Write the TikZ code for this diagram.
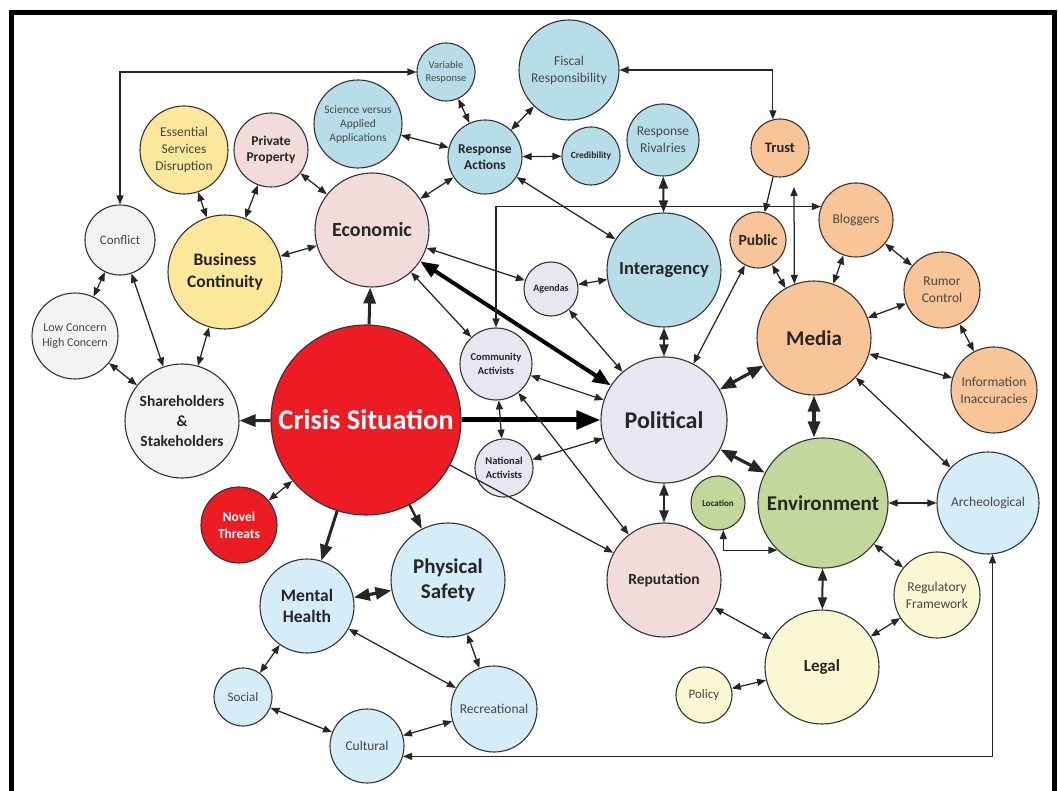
\documentclass[tikz,border=0pt]{standalone}
\usepackage{fontspec}
\setmainfont{Carlito}
\usetikzlibrary{arrows.meta}
\definecolor{cRed}{HTML}{ED1C24}
\definecolor{cPink}{HTML}{F2DCDB}
\definecolor{cLav}{HTML}{E8E6F1}
\definecolor{cGray}{HTML}{F2F3F5}
\definecolor{cYel}{HTML}{FCE79B}
\definecolor{cBlue}{HTML}{B7DEE8}
\definecolor{cOrange}{HTML}{F9C497}
\definecolor{cGreen}{HTML}{C4D79B}
\definecolor{cLBlue}{HTML}{D4EDF8}
\definecolor{cLYel}{HTML}{FAF8D2}
\begin{document}
\begin{tikzpicture}[x=1pt,y=-1pt,
 bub/.style n args={4}{circle, draw=black!80, line width=1.1pt, inner sep=0pt, align=center,
   fill=#1, minimum size=#2pt, font=\fontsize{#3}{#4}\selectfont, text=black!72},
 bubb/.style n args={4}{bub={#1}{#2}{#3}{#4}, font=\fontsize{#3}{#4}\selectfont\bfseries, text=black!85},
 lnk/.style={draw=black!85, line width=1.25pt, {Triangle[length=9pt,width=7pt]}-{Triangle[length=9pt,width=7pt]}},
 lnkone/.style={draw=black!85, line width=1.25pt, -{Triangle[length=9pt,width=7pt]}},
 lnkmed/.style={draw=black!85, line width=2pt, {Triangle[length=12pt,width=9pt]}-{Triangle[length=12pt,width=9pt]}},
 lnkmedone/.style={draw=black!85, line width=2.4pt, -{Triangle[length=14pt,width=10pt]}},
 lnkthk/.style={draw=black!85, line width=3.2pt, {Triangle[length=16pt,width=12pt]}-{Triangle[length=16pt,width=12pt]}},
 lnkthkone/.style={draw=black!85, line width=3pt, -{Triangle[length=16pt,width=12pt]}},
 lnkbig/.style={draw=black, line width=4pt, {Triangle[length=18pt,width=14pt]}-{Triangle[length=18pt,width=14pt]}},
 lnkhuge/.style={draw=black, line width=5pt, -{Triangle[length=24pt,width=18pt]}}
]
\useasboundingbox (0,0) rectangle (1058,791);
\begin{scope}
\clip (0,0) rectangle (1058,791);
\draw[line width=5pt] (11,12.5) rectangle (1054,830);
\end{scope}

% nodes
\node[bubb={cRed}{190}{28.5}{32}, text=white] (crisis) at (366,420) {Crisis Situation};
\node[bubb={cPink}{114}{20}{23}] (econ) at (372,230) {Economic};
\node[bubb={cLav}{126}{24}{27}] (pol) at (664,420) {Political};
\node[bubb={cGray}{114}{15.5}{20}] (share) at (182,421) {Shareholders\\\&\\Stakeholders};
\node[bubb={cYel}{114}{17.5}{22}] (bus) at (225,272) {Business\\Continuity};
\node[bub={cYel}{88}{13.5}{17}] (ess) at (184,150) {Essential\\Services\\Disruption};
\node[bubb={cPink}{74}{13.5}{16}] (priv) at (271,150) {Private\\Property};
\node[bub={cBlue}{88}{11.5}{14}] (sci) at (358,124) {Science versus\\Applied\\Applications};
\node[bub={cBlue}{58}{10.5}{13}] (var) at (446,72) {Variable\\Response};
\node[bubb={cBlue}{74}{13.5}{16}] (ra) at (485,157) {Response\\Actions};
\node[bub={cBlue}{100}{13.5}{17}] (fis) at (569,70) {Fiscal\\Responsibility};
\node[bubb={cBlue}{58}{9.5}{12}] (credb) at (591,156) {Credibility};
\node[bub={cBlue}{72}{13.5}{17}] (riv) at (663,140) {Response\\Rivalries};
\node[bubb={cOrange}{58}{14.5}{17}] (trust) at (780,148) {Trust};
\node[bubb={cBlue}{114}{18.5}{22}] (inter) at (664,270) {Interagency};
\node[bubb={cOrange}{56}{15.5}{18}] (pub) at (758,240) {Public};
\node[bub={cOrange}{74}{13.5}{16}] (blog) at (856,220) {Bloggers};
\node[bub={cOrange}{76}{13.5}{17}] (rumor) at (942,290) {Rumor\\Control};
\node[bubb={cOrange}{114}{21}{24}] (media) at (814,338) {Media};
\node[bub={cOrange}{86}{13.5}{17}] (info) at (994,390) {Information\\Inaccuracies};
\node[bub={cGray}{70}{13}{15}] (confl) at (120,240) {Conflict};
\node[bub={cGray}{86}{12}{15}] (low) at (75,336) {Low Concern\\High Concern};
\node[bubb={cLav}{54}{10}{12}] (agen) at (551,289) {Agendas};
\node[bubb={cLav}{72}{10.5}{14}] (ca) at (496,364) {Community\\Activists};
\node[bubb={cLav}{58}{10.5}{14}] (na) at (504,468) {National\\Activists};
\node[bubb={cRed}{76}{13.5}{17}, text=white] (novel) at (239,525) {Novel\\Threats};
\node[bubb={cLBlue}{94}{17.5}{21}] (mh) at (307,606) {Mental\\Health};
\node[bubb={cLBlue}{114}{21}{25}] (ps) at (448,580) {Physical\\Safety};
\node[bub={cLBlue}{58}{13}{15}] (soc) at (243,697) {Social};
\node[bub={cLBlue}{74}{13.5}{16}] (cult) at (367,746) {Cultural};
\node[bub={cLBlue}{86}{13.5}{16}] (rec) at (494,709) {Recreational};
\node[bubb={cPink}{114}{15.5}{18}] (rep) at (664,580) {Reputation};
\node[bubb={cGreen}{54}{9}{11}] (loc) at (718,503) {Location};
\node[bubb={cGreen}{130}{21}{24}] (env) at (823,503) {Environment};
\node[bub={cLBlue}{102}{13.5}{16}] (arch) at (988,503) {Archeological};
\node[bub={cLYel}{86}{13.5}{17}] (regf) at (937,595) {Regulatory\\Framework};
\node[bubb={cLYel}{114}{17}{19}] (legal) at (822,667) {Legal};
\node[bub={cLYel}{56}{13}{15}] (policy) at (704,695) {Policy};

\coordinate (mtop) at (794,187);

% connectors from crisis
\draw[lnkthkone] (crisis) -- (econ);
\draw[lnkthkone] (crisis) -- (share);
\draw[lnkhuge] (crisis) -- (pol);
\draw[lnk] (crisis) -- (novel);
\draw[lnkthkone] (crisis) -- (mh);
\draw[lnkmedone] (crisis) -- (ps);
\draw[lnkone] (crisis) -- (rep);

% economic
\draw[lnkbig] (econ) -- (pol);
\draw[lnk] (econ) -- (agen);
\draw[lnk] (econ) -- (ca);
\draw[lnk] (econ) -- (bus);
\draw[lnk] (econ) -- (priv);
\draw[lnk] (econ) -- (ra);

% business & shareholders
\draw[lnk] (bus) -- (ess);
\draw[lnk] (bus) -- (priv);
\draw[lnk] (bus) -- (share);
\draw[lnk] (confl) -- (low);
\draw[lnk] (confl) -- (share);
\draw[lnk] (low) -- (share);
\draw[lnk] (var.west) -| (confl.north);

% response actions
\draw[lnk] (ra) -- (var);
\draw[lnk] (ra) -- (sci);
\draw[lnk] (ra) -- (fis);
\draw[lnk] (ra) -- (credb);
\draw[lnk] (ra) -- (inter);
\draw[lnk] (fis.east) -| (trust.104);
\draw[lnkmed] (riv) -- (inter);

% media cluster
\draw[lnkone] (trust) -- (pub);
\draw[lnk] (ca.north) |- (blog.159);
\draw[lnk] (media.110) -- (mtop);
\draw[lnk] (pub) -- (media);
\draw[lnk] (pub) -- (pol);
\draw[lnk] (blog) -- (media);
\draw[lnk] (blog) -- (rumor);
\draw[lnk] (rumor) -- (media);
\draw[lnk] (rumor) -- (info);
\draw[lnk] (media) -- (info);
\draw[lnkthk] (media) -- (pol);
\draw[lnkthk] (media.south) -- (env.north -| media.south);
\draw[lnk] (media) -- (arch);

% political
\draw[lnkthk] (pol) -- (env);
\draw[lnkmed] (pol) -- (rep);
\draw[lnkmed] (pol) -- (inter);
\draw[lnk] (pol) -- (agen);
\draw[lnk] (pol) -- (ca);
\draw[lnk] (pol) -- (na);
\draw[lnk] (ca) -- (na);
\draw[lnk] (ca) -- (rep);
\draw[lnk] (inter) -- (agen);

% environment / legal
\draw[lnk] (env) -- (arch);
\draw[lnk] (loc.-79) |- (env.226);
\draw[lnk] (env) -- (regf);
\draw[lnkmed] (env) -- (legal);
\draw[lnk] (rep) -- (legal);
\draw[lnk] (legal) -- (regf);
\draw[lnk] (legal) -- (policy);
\draw[lnk] (arch.-85) |- (cult.-16);

% health
\draw[lnkthk] (mh) -- (ps);
\draw[lnk] (mh) -- (soc);
\draw[lnk] (mh) -- (rec);
\draw[lnk] (ps) -- (rec);
\draw[lnk] (soc) -- (cult);
\draw[lnk] (cult) -- (rec);
\end{tikzpicture}
\end{document}
